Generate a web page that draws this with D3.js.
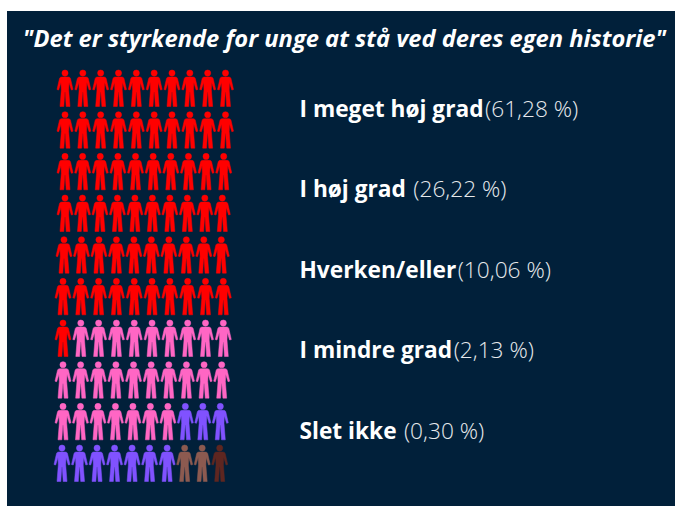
<!DOCTYPE html>
<html>
<head>
<meta charset="utf-8">
<script src="https://cdn.jsdelivr.net/npm/d3@7"></script>
<style>
  html, body { margin: 0; padding: 0; background: #fff; }
  text { font-family: "Open Sans", sans-serif; white-space: pre; }
</style>
</head>
<body>
<svg id="chart"></svg>
<script>
// Chart values
//
var title      = '"Det er styrkende for unge at stå ved deres egen historie"';
var categories = ['I meget høj grad', 'I høj grad ', 'Hverken/eller', 'I mindre grad', 'Slet ikke '];
var percents   = ['(61,28 %)', '(26,22 %)', '(10,06 %)', '(2,13 %)', '(0,30 %)'];
var iconCounts = [61, 26, 10, 2, 1];
var iconColors = ['#ff0000', '#ff66c4', '#8052ff', '#8c5a50', '#5e2620'];

// Page layout
//
var svg_width  = 675;
var svg_height = 506;
var columns    = 10;
var rows       = 10;

// First and last icon centre of each row, the rows drift a little
//
var rowStart = [65, 65, 65, 65, 64, 63, 63, 63, 63, 62];
var rowEnd   = [225.5, 225.5, 223.7, 222.3, 221.3, 223.3, 223.3, 221.7, 220.3, 219.7];

// One figure, centred on x = 0 with its head at y = 0
//
var personPath = 'M-3.1,3.1 a3.1,3.1 0 1,1 6.2,0 a3.1,3.1 0 1,1 -6.2,0 Z ' +
    'M-3.5,7 L3.5,7 Q5,7 5.5,8.5 L8,19.5 L6.3,20 L4,12.5 L3.7,20 L5,36.5 L1.2,36.5 L0.2,22 ' +
    'L-0.2,22 L-1.2,36.5 L-5,36.5 L-3.7,20 L-4,12.5 L-6.3,20 L-8,19.5 L-5.5,8.5 Q-5,7 -3.5,7 Z';

var svg = d3.select('#chart')
    .attr('width', svg_width)
    .attr('height', svg_height)
    .attr('viewBox', `0 0 ${svg_width} ${svg_height}`)
    .style('display', 'block');

// Panel
//
svg.append('rect')
    .attr('x', 7)
    .attr('y', 11)
    .attr('width', svg_width - 7)
    .attr('height', svg_height - 11)
    .attr('fill', '#01203a');

// Title
//
svg.append('text')
    .attr('x', 344.5)
    .attr('y', 47)
    .attr('text-anchor', 'middle')
    .attr('fill', '#ffffff')
    .style('font-size', '23.7px')
    .style('font-weight', 700)
    .style('font-style', 'italic')
    .text(title);

// Expand the counts to one colour per icon
//
var icons = [];
iconCounts.forEach(function(count, i) {
    d3.range(count).forEach(function() { icons.push(iconColors[i]); });
});

// Icons
//
var y_icon = d3.scaleLinear().domain([0, rows - 1]).range([70, 445]);

svg.append('g')
    .attr('class', 'icons')
    .selectAll('path')
    .data(icons)
    .join('path')
    .attr('d', personPath)
    .attr('fill', d => d)
    .attr('stroke', d => d)
    .attr('stroke-width', 0.5)
    .attr('transform', function(d, i) {
        let row = Math.floor(i / rows);
        let col = i % columns;
        let x_icon = d3.scaleLinear().domain([0, columns - 1]).range([rowStart[row], rowEnd[row]]);
        return `translate(${x_icon(col)},${y_icon(row)})`;
    });

// Legend
//
var y_legend = d3.scalePoint().domain(categories).range([116.5, 438.5]);

var legend = svg.append('g')
    .attr('class', 'legend')
    .selectAll('text')
    .data(categories)
    .join('text')
    .attr('x', 299.5)
    .attr('y', d => y_legend(d))
    .style('font-size', '22.7px');

legend.append('tspan')
    .attr('fill', '#ffffff')
    .style('font-weight', 700)
    .text(d => d);

legend.append('tspan')
    .attr('dx', 1.5)
    .attr('fill', '#e6e9ec')
    .style('font-weight', 300)
    .text((d, i) => percents[i]);
</script>
</body>
</html>
